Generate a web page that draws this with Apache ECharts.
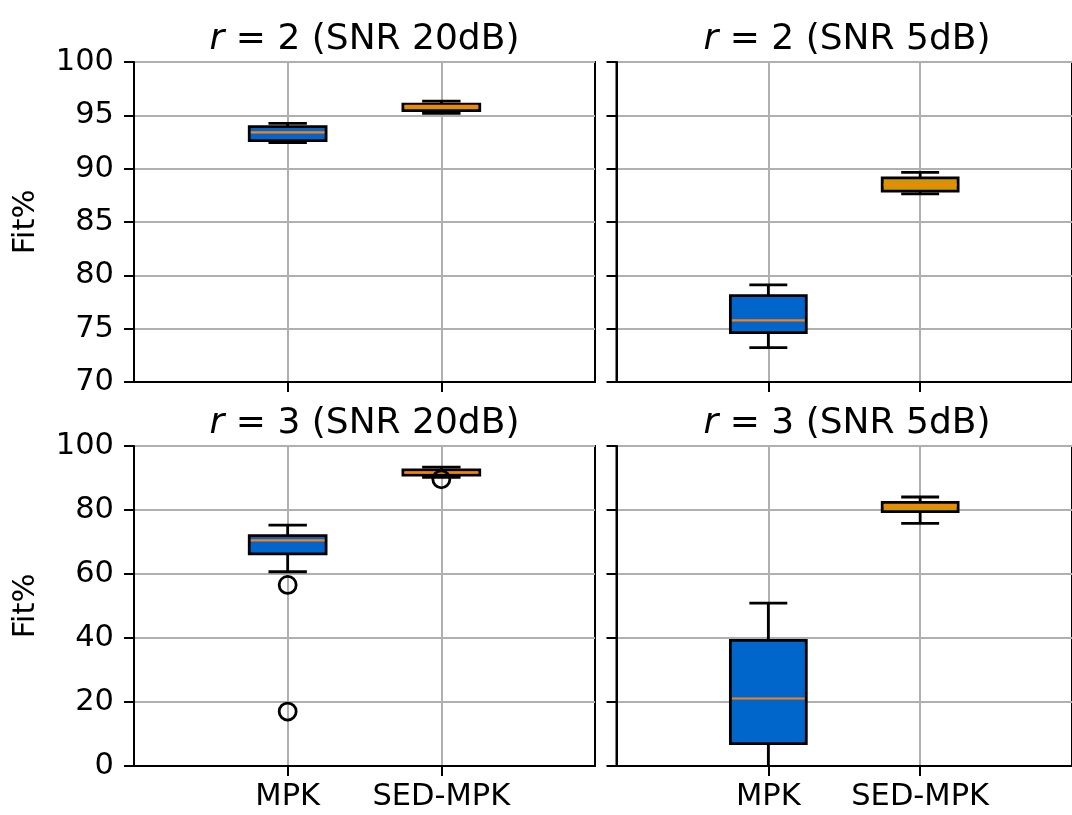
<!DOCTYPE html>
<html>
<head>
<meta charset="utf-8">
<script src="https://cdn.jsdelivr.net/npm/echarts@6/dist/echarts.min.js"></script>
<style>html,body{margin:0;padding:0;background:#fff}#c{width:1072px;height:815px}</style>
</head>
<body>
<div id="c"></div>
<script>
// ---- data ----
const categories = ['MPK', 'SED-MPK'];
const titles = [
  ['2', 'SNR 20dB'], ['2', 'SNR 5dB'], ['3', 'SNR 20dB'], ['3', 'SNR 5dB']
];
const yLabel = 'Fit%';
const topTicks = [70, 75, 80, 85, 90, 95, 100];
const bottomTicks = [0, 20, 40, 60, 80, 100];
// stats: [lowWhisker, Q1, median, Q3, highWhisker]
const r2_20_MPK = [92.44, 92.62, 93.40, 93.94, 94.25];
const r2_20_SED = [95.19, 95.44, 95.88, 96.06, 96.34];
const r2_5_MPK  = [73.22, 74.63, 75.78, 78.10, 79.10];
const r2_5_SED  = [87.63, 87.90, 88.50, 89.13, 89.66];
const r3_20_MPK = [60.7, 66.3, 70.5, 71.97, 75.3];
const r3_20_SED = [90.2, 90.9, 91.77, 92.5, 93.4];
const r3_5_MPK  = [-3.0, 6.98, 21.1, 39.27, 50.9];
const r3_5_SED  = [75.8, 79.5, 81.35, 82.4, 84.06];
const r2_20_out_MPK = [], r2_20_out_SED = [];
const r2_5_out_MPK = [], r2_5_out_SED = [];
const r3_20_out_MPK = [56.6, 17.0];
const r3_20_out_SED = [89.6];
const r3_5_out_MPK = [], r3_5_out_SED = [];

const panels = [
  {stats: [r2_20_MPK, r2_20_SED], out: [r2_20_out_MPK, r2_20_out_SED], ticks: topTicks},
  {stats: [r2_5_MPK, r2_5_SED], out: [r2_5_out_MPK, r2_5_out_SED], ticks: topTicks},
  {stats: [r3_20_MPK, r3_20_SED], out: [r3_20_out_MPK, r3_20_out_SED], ticks: bottomTicks},
  {stats: [r3_5_MPK, r3_5_SED], out: [r3_5_out_MPK, r3_5_out_SED], ticks: bottomTicks}
];

// ---- style ----
const FONT = 'DejaVu Sans';
const boxColors = ['#0066cc', '#cc9900'];
const medianColor = '#ff7f0e';
const gridRects = [
  {left: 134, top: 62, width: 461, height: 320},
  {left: 616.5, top: 62, width: 461, height: 320},
  {left: 134, top: 446, width: 461, height: 320},
  {left: 616.5, top: 446, width: 461, height: 320}
];
const xData = [''].concat(categories).concat(['']);
const showIdx = (i) => i >= 1 && i <= categories.length;

function renderBox(params, api) {
  const x = api.value(0);
  const c = (v) => api.coord([x, v]);
  const lo = c(api.value(1)), q1 = c(api.value(2)), med = c(api.value(3)), q3 = c(api.value(4)), hi = c(api.value(5));
  const band = Math.abs(api.coord([2, 0])[0] - api.coord([1, 0])[0]);
  const bw = band * 0.5, cw = band * 0.25;
  const cx = q1[0];
  const lw = 2.8;
  const stroke = {stroke: '#000', lineWidth: lw};
  return {
    type: 'group',
    children: [
      {type: 'line', shape: {x1: cx, y1: q1[1], x2: cx, y2: lo[1]}, style: stroke},
      {type: 'line', shape: {x1: cx, y1: q3[1], x2: cx, y2: hi[1]}, style: stroke},
      {type: 'line', shape: {x1: cx - cw / 2, y1: lo[1], x2: cx + cw / 2, y2: lo[1]}, style: stroke},
      {type: 'line', shape: {x1: cx - cw / 2, y1: hi[1], x2: cx + cw / 2, y2: hi[1]}, style: stroke},
      {type: 'rect', shape: {x: cx - bw / 2, y: q3[1], width: bw, height: q1[1] - q3[1]},
        style: {fill: boxColors[x - 1], stroke: '#000', lineWidth: lw}},
      {type: 'line', shape: {x1: cx - bw / 2 + 1.5, y1: med[1], x2: cx + bw / 2 - 1.5, y2: med[1]},
        style: {stroke: medianColor, lineWidth: 2.2}}
    ]
  };
}

const option = {
  animation: false,
  backgroundColor: '#fff',
  textStyle: {fontFamily: FONT},
  title: titles.map((t, i) => ({
    text: '{i|r} = ' + t[0] + ' (' + t[1] + ')',
    left: gridRects[i].left + gridRects[i].width / 2,
    top: gridRects[i].top - 42,
    textAlign: 'center',
    padding: 0,
    textStyle: {
      fontFamily: FONT, fontSize: 36, fontWeight: 'normal', color: '#000', lineHeight: 40,
      rich: {i: {fontFamily: FONT, fontSize: 36, fontStyle: 'italic', color: '#000', lineHeight: 40}}
    }
  })),
  grid: gridRects.map(r => Object.assign({show: true, borderColor: '#000', borderWidth: 2, backgroundColor: 'transparent', containLabel: false}, r)),
  xAxis: gridRects.map((r, i) => ({
    type: 'category', gridIndex: i, data: xData, boundaryGap: false,
    axisLine: {show: true, lineStyle: {color: '#000', width: 2}},
    axisTick: {show: true, interval: (idx) => showIdx(idx), length: 10, lineStyle: {color: '#000', width: 2}},
    axisLabel: {show: i >= 2, interval: (idx) => showIdx(idx), fontFamily: FONT, fontSize: 30.5, color: '#000', margin: 16},
    splitLine: {show: true, interval: (idx) => showIdx(idx), lineStyle: {color: '#b0b0b0', width: 2}}
  })),
  yAxis: gridRects.map((r, i) => {
    const ticks = panels[i].ticks;
    return {
      type: 'value', gridIndex: i, min: ticks[0], max: ticks[ticks.length - 1], interval: ticks[1] - ticks[0],
      name: (i % 2 === 0) ? yLabel : '', nameLocation: 'middle', nameGap: 92,
      nameTextStyle: {fontFamily: FONT, fontSize: 30.5, color: '#000'},
      axisLine: {show: true, lineStyle: {color: '#000', width: 2}},
      axisTick: {show: true, length: 10, lineStyle: {color: '#000', width: 2}},
      axisLabel: {show: i % 2 === 0, fontFamily: FONT, fontSize: 30.5, color: '#000', margin: 20},
      splitLine: {show: true, lineStyle: {color: '#b0b0b0', width: 2}}
    };
  }),
  series: []
};

panels.forEach((p, i) => {
  option.series.push({
    type: 'custom', xAxisIndex: i, yAxisIndex: i, clip: true,
    renderItem: renderBox,
    data: p.stats.map((s, k) => [k + 1].concat(s)),
    z: 3
  });
  const pts = [];
  p.out.forEach((arr, k) => arr.forEach(v => pts.push([k + 1, v])));
  option.series.push({
    type: 'scatter', xAxisIndex: i, yAxisIndex: i, data: pts, symbol: 'circle', symbolSize: 17,
    itemStyle: {color: 'rgba(0,0,0,0)', borderColor: '#000', borderWidth: 2.8, opacity: 1}, z: 4, clip: true
  });
});

const chart = echarts.init(document.getElementById('c'), null, {renderer: 'canvas'});
chart.setOption(option);
</script>
</body>
</html>
